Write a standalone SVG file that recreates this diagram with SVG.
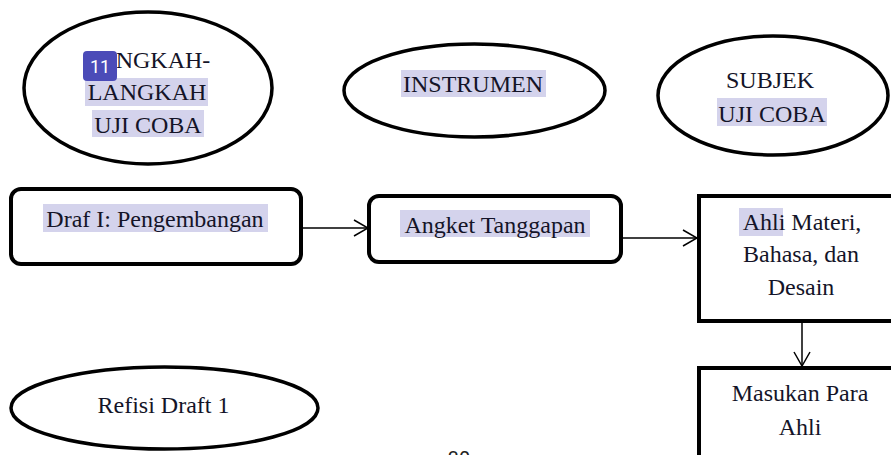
<svg xmlns="http://www.w3.org/2000/svg" width="891" height="455" viewBox="0 0 891 455">
  <style>
    .oval { fill: #ffffff; stroke: #000000; stroke-width: 3.5; }
    .box { fill: #ffffff; stroke: #000000; stroke-width: 4; }
    .t { font-family: "Liberation Serif", "Times New Roman", serif; font-size: 24px; fill: #141428; text-anchor: middle; }
    .hl { fill: #d4d3ec; }
    .wire { fill: none; stroke: #000000; stroke-width: 1.5; }
  </style>
  <defs>
    <marker id="chev" viewBox="0 0 16 18" refX="15" refY="9" markerWidth="16" markerHeight="18" markerUnits="userSpaceOnUse" orient="auto">
      <path d="M1,1 L15,9 L1,17" fill="none" stroke="#000000" stroke-width="1.5"/>
    </marker>
  </defs>
  <rect width="891" height="455" fill="#ffffff"/>

  <!-- header ovals -->
  <g id="langkah">
    <ellipse class="oval" cx="148" cy="88" rx="124" ry="76"/>
    <rect class="hl" x="85" y="78" width="123" height="28"/>
    <rect class="hl" x="92" y="110" width="112" height="27"/>
    <text class="t" x="147" y="68">LANGKAH-</text>
    <text class="t" x="147" y="100">LANGKAH</text>
    <text class="t" x="148" y="133">UJI COBA</text>
    <rect x="83" y="51" width="34" height="30" rx="4" fill="#4b4bb8"/>
    <text x="100" y="73" font-family="Roboto, 'Noto Sans', sans-serif" font-size="18" fill="#ffffff" text-anchor="middle">11</text>
  </g>

  <g id="instrumen">
    <ellipse class="oval" cx="474.5" cy="90.5" rx="130.5" ry="46.5"/>
    <rect class="hl" x="401" y="70" width="145" height="27"/>
    <text class="t" x="473" y="92">INSTRUMEN</text>
  </g>

  <g id="subjek">
    <ellipse class="oval" cx="773" cy="95.5" rx="115" ry="59.5"/>
    <rect class="hl" x="717" y="98" width="110" height="28"/>
    <text class="t" x="770" y="88">SUBJEK</text>
    <text class="t" x="772" y="122">UJI COBA</text>
  </g>

  <!-- process boxes -->
  <g id="draf">
    <rect class="box" x="11" y="189" width="290" height="75" rx="10"/>
    <rect class="hl" x="43" y="204" width="225" height="28"/>
    <text class="t" x="155" y="227">Draf I: Pengembangan</text>
  </g>

  <g id="angket">
    <rect class="box" x="369" y="196" width="252" height="66" rx="10"/>
    <rect class="hl" x="400" y="210" width="190" height="27"/>
    <text class="t" x="495" y="233">Angket Tanggapan</text>
  </g>

  <g id="ahli">
    <rect class="box" x="699" y="196" width="210" height="125"/>
    <rect class="hl" x="739" y="208" width="44" height="28"/>
    <text class="t" x="802" y="230">Ahli Materi,</text>
    <text class="t" x="801" y="262">Bahasa, dan</text>
    <text class="t" x="801" y="295">Desain</text>
  </g>

  <g id="masukan">
    <rect class="box" x="699" y="368" width="210" height="110"/>
    <text class="t" x="800" y="401">Masukan Para</text>
    <text class="t" x="800" y="435">Ahli</text>
  </g>

  <g id="refisi">
    <ellipse class="oval" cx="164.5" cy="408" rx="153.5" ry="41"/>
    <text class="t" x="163.5" y="413">Refisi Draft 1</text>
  </g>

  <!-- connectors -->
  <g id="connectors">
    <line class="wire" x1="303" y1="228" x2="368" y2="228" marker-end="url(#chev)"/>
    <line class="wire" x1="623" y1="238" x2="697" y2="238" marker-end="url(#chev)"/>
    <line class="wire" x1="802" y1="323" x2="802" y2="366" marker-end="url(#chev)"/>
  </g>

  <!-- page number -->
  <text x="459" y="466" font-family="Roboto, 'Noto Sans', sans-serif" font-size="20" fill="#222222" text-anchor="middle">30</text>
</svg>
